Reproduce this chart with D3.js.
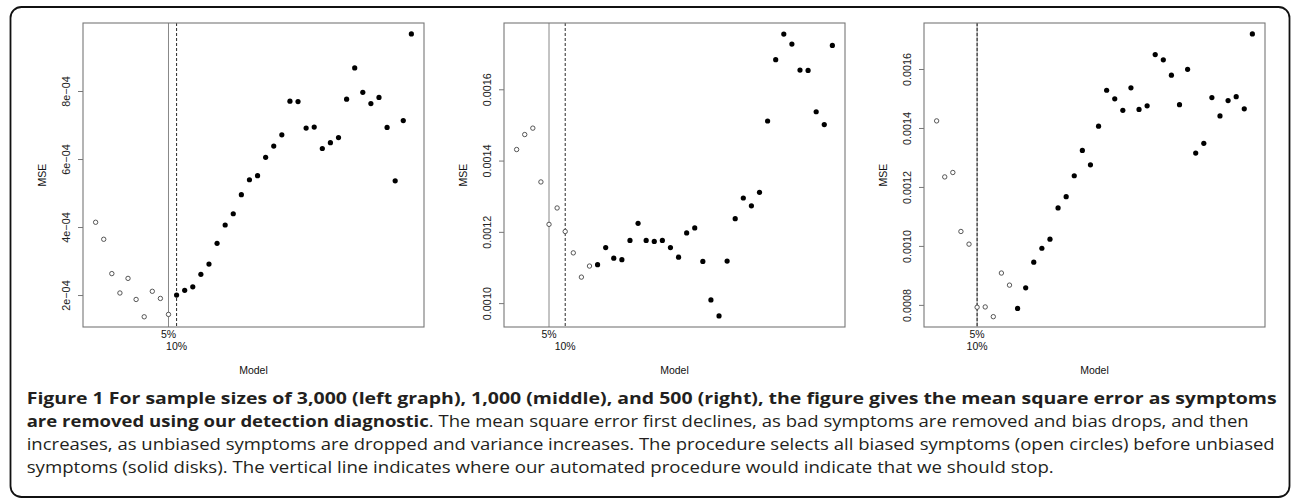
<!DOCTYPE html>
<html>
<head>
<meta charset="utf-8">
<title>Figure 1 - MSE as symptoms are removed</title>
<script src="https://d3js.org/d3.v7.min.js"></script>
<style>
  body { margin: 0; background: #fff; }
  .plot text { font-family: "Liberation Sans", Arial, Helvetica, sans-serif; font-size: 10.5px; fill: #111; }
  .caption { font-family: "Open Sans", "Noto Sans", sans-serif; font-size: 16.5px; fill: #231f20; }
  .caption .b { font-weight: bold; }
</style>
</head>
<body>
<div id="chart"></div>
<script>

// model index on the x axis (1..40)
var models = [1,2,3,4,5,6,7,8,9,10,11,12,13,14,15,16,17,18,19,20,
              21,22,23,24,25,26,27,28,29,30,31,32,33,34,35,36,37,38,39,40];

// MSE for sample size 3,000 (left)
var mse3000 = [4.14e-4,3.64e-4,2.63e-4,2.06e-4,2.49e-4,1.87e-4,1.36e-4,2.11e-4,1.90e-4,1.43e-4,
               2.00e-4,2.14e-4,2.24e-4,2.61e-4,2.91e-4,3.52e-4,4.06e-4,4.39e-4,4.95e-4,5.39e-4,
               5.51e-4,6.05e-4,6.38e-4,6.71e-4,7.70e-4,7.69e-4,6.91e-4,6.94e-4,6.31e-4,6.48e-4,
               6.63e-4,7.76e-4,8.68e-4,7.96e-4,7.63e-4,7.81e-4,6.93e-4,5.36e-4,7.13e-4,9.68e-4];

// MSE for sample size 1,000 (middle)
var mse1000 = [0.001431,0.001473,0.001491,0.001340,0.001221,0.001267,0.001201,0.001141,0.001073,0.001104,
               0.001108,0.001156,0.001126,0.001122,0.001176,0.001224,0.001176,0.001173,0.001176,0.001156,
               0.001129,0.001197,0.001211,0.001117,0.001009,0.000964,0.001118,0.001237,0.001295,0.001273,
               0.001311,0.001511,0.001683,0.001755,0.001727,0.001654,0.001653,0.001537,0.001501,0.001723];

// MSE for sample size 500 (right)
var mse500 = [0.001424,0.001234,0.001249,0.001049,0.001006,0.000792,0.000793,0.000760,0.000908,0.000867,
              0.000788,0.000858,0.000945,0.000992,0.001023,0.001129,0.001167,0.001238,0.001324,0.001275,
              0.001406,0.001528,0.001499,0.001460,0.001536,0.001463,0.001475,0.001649,0.001631,0.001579,
              0.001479,0.001599,0.001315,0.001348,0.001503,0.001441,0.001493,0.001506,0.001465,0.001719];

// first n symptoms are the biased ones (open circles)
var nBiased = [10, 10, 10];

// where the 5% / 10% stopping rules fall
var stop5 = [10, 5, 6];
var stop10 = [11, 7, 6];

// y ranges and tick labels
var yDomains = [[1.06e-4, 1.0e-3], [0.000933, 0.001786], [0.000725, 0.001756]];
var yTicks = [[2e-4, 4e-4, 6e-4, 8e-4],
              [0.0010, 0.0012, 0.0014, 0.0016],
              [0.0008, 0.0010, 0.0012, 0.0014, 0.0016]];
var yTickLabels = [["2e\u221204", "4e\u221204", "6e\u221204", "8e\u221204"],
                   ["0.0010", "0.0012", "0.0014", "0.0016"],
                   ["0.0008", "0.0010", "0.0012", "0.0014", "0.0016"]];

var series = [mse3000, mse1000, mse500];

var W = 1292, H = 499;
var panelLeft = [83, 504, 924], panelW = 341;
var plotTop = 23, plotBottom = 327;

var svg = d3.select("#chart").append("svg")
    .attr("width", W)
    .attr("height", H);

// rounded frame around figure and caption
svg.append("rect")
    .attr("x", 10.5).attr("y", 7)
    .attr("width", 1279).attr("height", 490)
    .attr("rx", 11).attr("ry", 11)
    .attr("fill", "none")
    .attr("stroke", "#111")
    .attr("stroke-width", 1.8);

series.forEach(function(vals, p) {
  var x0 = panelLeft[p];

  // R-style 4% padding on the index
  var x = d3.scaleLinear()
      .domain([1 - 39 * 0.04, 40 + 39 * 0.04])
      .range([x0, x0 + panelW]);
  var y = d3.scaleLinear()
      .domain(yDomains[p])
      .range([plotBottom, plotTop]);

  var g = svg.append("g").attr("class", "plot");

  // y axis (ticks only, labels rotated)
  var yAxis = d3.axisLeft(y)
      .tickValues(yTicks[p])
      .tickSize(5)
      .tickFormat(function(d, i) { return yTickLabels[p][i]; });
  var ya = g.append("g")
      .attr("transform", "translate(" + x0 + ",0)")
      .call(yAxis);
  ya.select(".domain").remove();
  ya.selectAll(".tick line").attr("stroke", "#777");
  ya.selectAll(".tick text")
      .attr("x", null).attr("dy", null)
      .attr("text-anchor", "middle")
      .attr("transform", "translate(-13,0) rotate(-90)")
      .style("font-family", "'Liberation Sans', Arial, sans-serif")
      .style("font-size", "10.8px")
      .style("fill", "#222");

  // stopping lines
  g.append("line")
      .attr("x1", x(stop5[p])).attr("x2", x(stop5[p]))
      .attr("y1", plotTop).attr("y2", plotBottom)
      .attr("stroke", "#888").attr("stroke-width", 1);
  g.append("line")
      .attr("x1", x(stop10[p])).attr("x2", x(stop10[p]))
      .attr("y1", plotTop).attr("y2", plotBottom)
      .attr("stroke", "#111").attr("stroke-width", 0.9)
      .attr("stroke-dasharray", "3,2");

  // points
  g.selectAll("circle.pt")
      .data(vals)
    .enter().append("circle")
      .attr("class", "pt")
      .attr("cx", function(d, i) { return x(models[i]); })
      .attr("cy", function(d) { return y(d); })
      .attr("r", function(d, i) { return i < nBiased[p] ? 2.2 : 2.6; })
      .attr("fill", function(d, i) { return i < nBiased[p] ? "#fff" : "#000"; })
      .attr("stroke", function(d, i) { return i < nBiased[p] ? "#444" : "none"; })
      .attr("stroke-width", 0.9);

  // plot box
  g.append("rect")
      .attr("x", x0).attr("y", plotTop)
      .attr("width", panelW).attr("height", plotBottom - plotTop)
      .attr("fill", "none")
      .attr("stroke", "#777")
      .attr("stroke-width", 1.1);

  // 5% / 10% labels under the axis
  g.append("text")
      .attr("x", x(stop5[p])).attr("y", 338)
      .attr("text-anchor", "middle")
      .text("5%");
  g.append("text")
      .attr("x", x(stop10[p])).attr("y", 349.5)
      .attr("text-anchor", "middle")
      .text("10%");

  // axis titles
  g.append("text")
      .attr("x", x0 + panelW / 2).attr("y", 374)
      .attr("text-anchor", "middle")
      .text("Model");
  g.append("text")
      .attr("transform", "translate(" + (x0 - 37) + "," + ((plotTop + plotBottom) / 2) + ") rotate(-90)")
      .attr("text-anchor", "middle")
      .text("MSE");
});

// caption, one text element per line, fitted to the column width
var capLines = [
  { y: 403.5, w: 1250, parts: [["b", "Figure 1 For sample sizes of 3,000 (left graph), 1,000 (middle), and 500 (right), the figure gives the mean square error as symptoms"]] },
  { y: 426.8, w: 1222, parts: [["b", "are removed using our detection diagnostic"], ["r", ". The mean square error first declines, as bad symptoms are removed and bias drops, and then"]] },
  { y: 450, w: 1248, parts: [["r", "increases, as unbiased symptoms are dropped and variance increases. The procedure selects all biased symptoms (open circles) before unbiased"]] },
  { y: 473.2, w: 1027, parts: [["r", "symptoms (solid disks). The vertical line indicates where our automated procedure would indicate that we should stop."]] }
];

capLines.forEach(function(l) {
  var t = svg.append("text")
      .attr("class", "caption")
      .attr("x", 26.7)
      .attr("y", l.y)
      .attr("textLength", l.w)
      .attr("lengthAdjust", "spacingAndGlyphs");
  l.parts.forEach(function(pt) {
    t.append("tspan").attr("class", pt[0] === "b" ? "b" : null).text(pt[1]);
  });
});

</script>
</body>
</html>
